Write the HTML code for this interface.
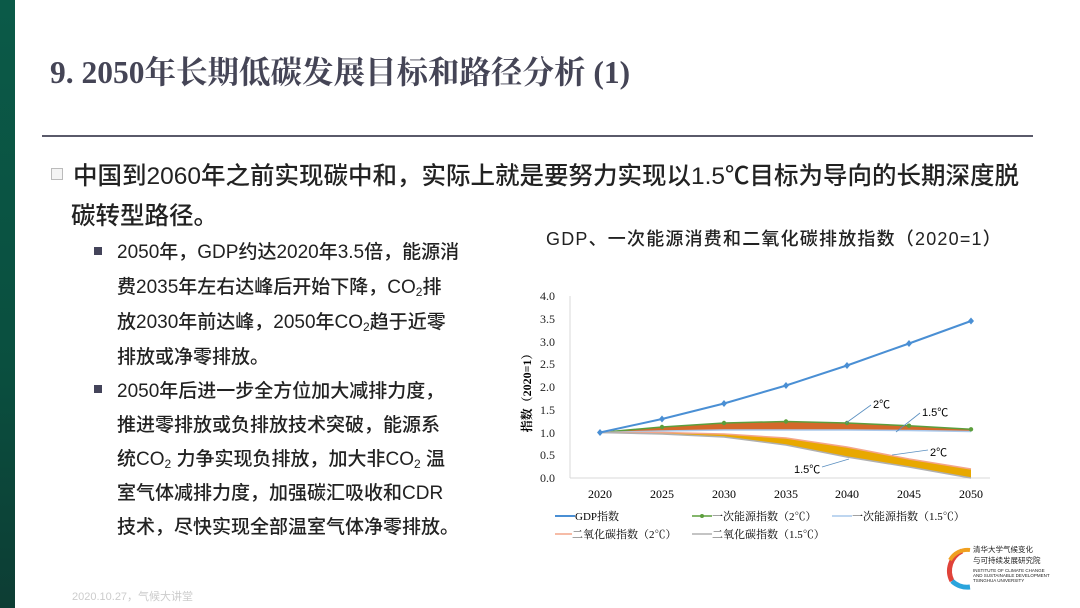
<!DOCTYPE html>
<html><head><meta charset="utf-8"><style>
body{margin:0;width:1080px;height:608px;background:#fff;position:relative;overflow:hidden;font-family:"Liberation Sans","Noto Sans CJK SC",sans-serif;color:#222}
.abs{position:absolute;white-space:nowrap}
.bar{left:0;top:0;width:15px;height:608px;background:linear-gradient(#0b5a48,#0a4f3f 60%,#0d3d34)}
h1{position:absolute;left:50px;top:48px;margin:0;font:bold 31.5px "Liberation Serif","Noto Serif CJK SC",serif;color:#454556}
.hr{left:42px;top:135px;width:991px;height:2px;background:#5a5a6a}
.main{font-size:24.5px;color:#222;font-weight:500}
.sub{font-size:19px;color:#222;font-weight:500}
.sq{width:8px;height:8px;background:#44445a}
sub{font-size:12px;vertical-align:-3px;line-height:0}
</style></head><body>
<div class="abs bar"></div>
<h1>9. 2050年长期低碳发展目标和路径分析 (1)</h1>
<div class="abs hr"></div>
<div class="abs" style="left:51px;top:168px;width:10px;height:10px;border:1px solid #bbb;background:#f4f4f4"></div>
<div class="abs main" style="left:73px;top:157px">中国到2060年之前实现碳中和，实际上就是要努力实现以1.5℃目标为导向的长期深度脱</div>
<div class="abs main" style="left:71px;top:197px">碳转型路径。</div>
<div class="abs sq" style="left:94px;top:247px"></div>
<div class="abs sub" style="left:117px;top:237px">2050年，GDP约达2020年3.5倍，能源消</div>
<div class="abs sub" style="left:117px;top:272px">费2035年左右达峰后开始下降，CO<sub>2</sub>排</div>
<div class="abs sub" style="left:117px;top:307px">放2030年前达峰，2050年CO<sub>2</sub>趋于近零</div>
<div class="abs sub" style="left:117px;top:342px">排放或净零排放。</div>
<div class="abs sq" style="left:94px;top:385px"></div>
<div class="abs sub" style="left:117px;top:376px">2050年后进一步全方位加大减排力度，</div>
<div class="abs sub" style="left:117px;top:410px">推进零排放或负排放技术突破，能源系</div>
<div class="abs sub" style="left:117px;top:444px">统CO<sub>2</sub> 力争实现负排放，加大非CO<sub>2</sub> 温</div>
<div class="abs sub" style="left:117px;top:478px">室气体减排力度，加强碳汇吸收和CDR</div>
<div class="abs sub" style="left:117px;top:512px">技术，尽快实现全部温室气体净零排放。</div>
<div class="abs" style="left:546px;top:225px;font-size:18px;color:#222;letter-spacing:1.2px;font-weight:500">GDP、一次能源消费和二氧化碳排放指数（2020=1）</div>
<svg class="abs" style="left:0;top:0" width="1080" height="608" font-family="Liberation Serif,Noto Serif CJK SC,serif">
<g font-size="12" fill="#222" text-anchor="end">
<text x="555" y="300">4.0</text><text x="555" y="323">3.5</text><text x="555" y="346">3.0</text><text x="555" y="368">2.5</text><text x="555" y="391">2.0</text><text x="555" y="414">1.5</text><text x="555" y="437">1.0</text><text x="555" y="459">0.5</text><text x="555" y="482">0.0</text>
</g>
<text transform="translate(531,390) rotate(-90)" font-size="12" font-weight="bold" text-anchor="middle">指数（2020=1）</text>
<line x1="570" y1="296" x2="570" y2="478" stroke="#d9d9d9"/>
<line x1="570" y1="478" x2="990" y2="478" stroke="#d9d9d9"/>
<g font-size="12" text-anchor="middle"><text x="600" y="498">2020</text><text x="662" y="498">2025</text><text x="724" y="498">2030</text><text x="786" y="498">2035</text><text x="847" y="498">2040</text><text x="909" y="498">2045</text><text x="971" y="498">2050</text></g>
<polygon points="600,432.5 662,427 724,423 786,421.5 847,423 909,425.7 971,429.3 971,431.5 909,430.5 847,430 786,430 724,430 662,431" fill="#d4692a"/>
<polygon points="600,432.5 662,432.5 724,434 786,438 847,447 909,459 971,469 971,478 909,467 847,457 786,445 724,437 662,434" fill="#e8a800"/>
<polyline points="600,432.5 662,427 724,423 786,421.5 847,423 909,425.7 971,429.3" fill="none" stroke="#5b9e3c" stroke-width="1.5"/>
<polyline points="600,432.5 662,431 724,430 786,430 847,430 909,430.5 971,431.5" fill="none" stroke="#a9c8ec" stroke-width="1.5"/>
<polyline points="600,432.5 662,432.5 724,434 786,438 847,447 909,459 971,469" fill="none" stroke="#f4a58a" stroke-width="1.5"/>
<polyline points="600,432.5 662,434 724,437 786,445 847,457 909,467 971,478" fill="none" stroke="#b0b0b0" stroke-width="1.5"/>
<polyline points="600,432.5 662,419 724,403.5 786,385.5 847,365.5 909,343.5 971,321" fill="none" stroke="#4a8fd4" stroke-width="2"/>
<g fill="#4a8fd4"><path d="M600 429l3 3.5-3 3.5-3-3.5z"/><path d="M662 415.5l3 3.5-3 3.5-3-3.5z"/><path d="M724 400l3 3.5-3 3.5-3-3.5z"/><path d="M786 382l3 3.5-3 3.5-3-3.5z"/><path d="M847 362l3 3.5-3 3.5-3-3.5z"/><path d="M909 340l3 3.5-3 3.5-3-3.5z"/><path d="M971 317.5l3 3.5-3 3.5-3-3.5z"/></g>
<g fill="#5b9e3c"><circle cx="662" cy="427" r="2.2"/><circle cx="724" cy="423" r="2.2"/><circle cx="786" cy="421.5" r="2.2"/><circle cx="847" cy="423" r="2.2"/><circle cx="909" cy="425.7" r="2.2"/><circle cx="971" cy="429.3" r="2.2"/></g>
<g stroke="#5a8fc0" stroke-width="0.8"><line x1="846" y1="423" x2="871" y2="405"/><line x1="896" y1="432" x2="920" y2="413"/><line x1="892" y1="455" x2="928" y2="450"/><line x1="822" y1="467" x2="849" y2="459"/></g>
<g font-size="11" font-family="Liberation Sans,Noto Sans CJK SC,sans-serif"><text x="873" y="408">2℃</text><text x="922" y="416">1.5℃</text><text x="930" y="456">2℃</text><text x="794" y="473">1.5℃</text></g>
<g font-size="11">
<line x1="555" y1="516" x2="575" y2="516" stroke="#4a8fd4" stroke-width="2"/><text x="575" y="520">GDP指数</text>
<line x1="692" y1="516" x2="712" y2="516" stroke="#5b9e3c" stroke-width="1.5"/><circle cx="702" cy="516" r="2"  fill="#5b9e3c"/><text x="712" y="520">一次能源指数（2℃）</text>
<line x1="832" y1="516" x2="852" y2="516" stroke="#a9c8ec" stroke-width="1.5"/><text x="852" y="520">一次能源指数（1.5℃）</text>
<line x1="555" y1="534" x2="572" y2="534" stroke="#f4a58a" stroke-width="1.5"/><text x="572" y="538">二氧化碳指数（2℃）</text>
<line x1="692" y1="534" x2="712" y2="534" stroke="#b0b0b0" stroke-width="1.5"/><text x="712" y="538">二氧化碳指数（1.5℃）</text>
</g>
<path d="M962 551a22 22 0 0 0 -10 30" stroke="#e0433a" stroke-width="5" fill="none"/>
<path d="M952 581a22 22 0 0 0 18 6" stroke="#2aa4dc" stroke-width="5" fill="none"/>
<path d="M950 560a20 20 0 0 1 20 -10" stroke="#f0a020" stroke-width="4" fill="none"/>
<g font-size="7.5" font-family="Liberation Sans,Noto Sans CJK SC,sans-serif" fill="#222"><text x="973" y="552">清华大学气候变化</text><text x="973" y="563">与可持续发展研究院</text><text x="973" y="572" font-size="4.5">INSTITUTE OF CLIMATE CHANGE</text><text x="973" y="577" font-size="4.5">AND SUSTAINABLE DEVELOPMENT</text><text x="973" y="582" font-size="4.5">TSINGHUA UNIVERSITY</text></g>
<text x="72" y="600" font-size="11" fill="#ccc" font-family="Liberation Sans,Noto Sans CJK SC,sans-serif">2020.10.27，气候大讲堂</text>
</svg>
</body></html>
